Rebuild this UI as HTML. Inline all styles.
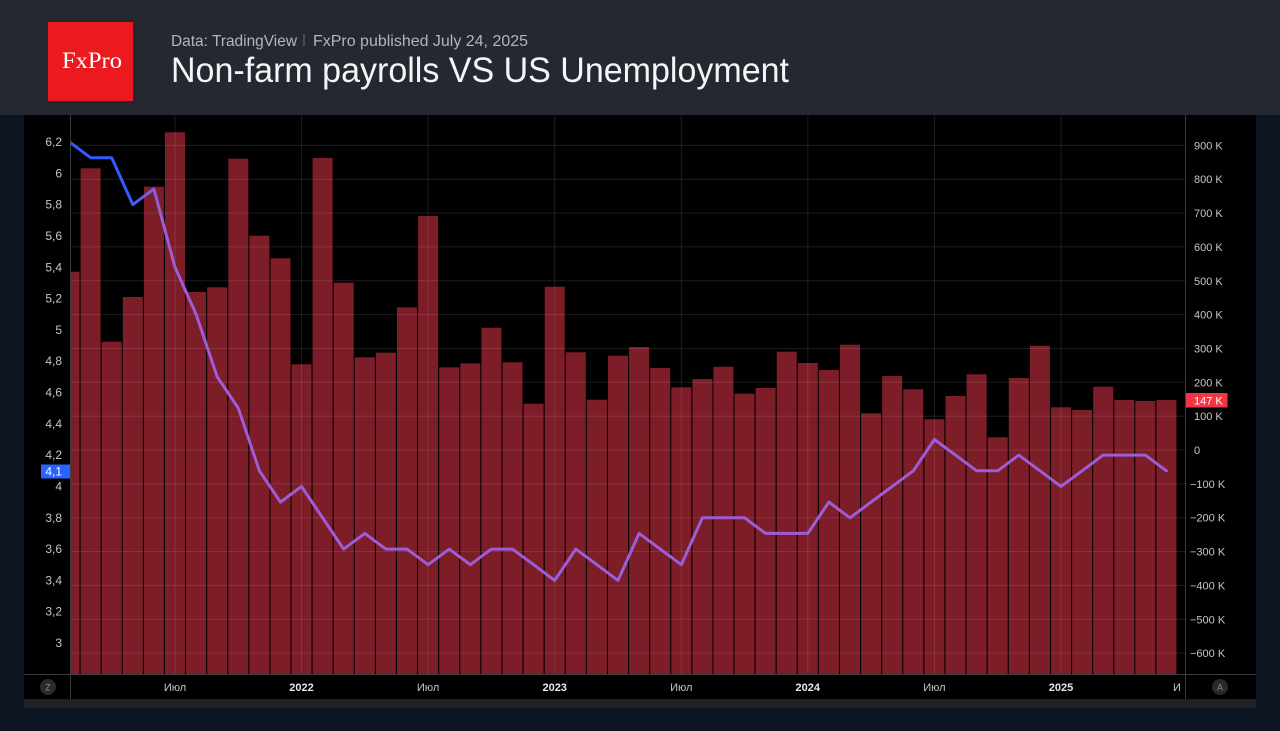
<!DOCTYPE html>
<html><head><meta charset="utf-8"><style>
html,body{margin:0;padding:0;background:#0e1522;}
svg{display:block;}
</style></head><body>
<svg width="1280" height="731" viewBox="0 0 1280 731" xmlns="http://www.w3.org/2000/svg" font-family="'Liberation Sans', sans-serif">
<defs>
<linearGradient id="lg" gradientUnits="userSpaceOnUse" x1="128" y1="0" x2="160" y2="0">
<stop offset="0" stop-color="#2f5cff"/><stop offset="1" stop-color="#9d5cd8"/>
</linearGradient>
<clipPath id="plot"><rect x="70.5" y="115" width="1115" height="559"/></clipPath>
</defs>
<rect x="0" y="0" width="1280" height="731" fill="#0e1522"/>
<!-- header -->
<rect x="0" y="0" width="1280" height="115" fill="#252831"/>
<rect x="48" y="22" width="85" height="79" fill="#ec1a1e"/>
<text x="62" y="68" font-family="'Liberation Serif', serif" font-size="23" fill="#fff" textLength="60" lengthAdjust="spacingAndGlyphs">FxPro</text>
<text x="171" y="46" font-size="16" fill="#b1b5bd" textLength="126" lengthAdjust="spacingAndGlyphs">Data: TradingView</text>
<rect x="303.5" y="34" width="1" height="12" fill="#6c7079"/>
<text x="313" y="46" font-size="16" fill="#b1b5bd" textLength="215" lengthAdjust="spacingAndGlyphs">FxPro published  July 24, 2025</text>
<text x="171" y="82" font-size="35" fill="#f4f5f7" textLength="618" lengthAdjust="spacingAndGlyphs">Non-farm payrolls VS US Unemployment</text>
<!-- chart panel -->
<rect x="24" y="115" width="1232" height="584" fill="#000"/>
<rect x="24" y="699" width="1232" height="9" fill="#202125"/>
<!-- bars -->
<g clip-path="url(#plot)" fill="#7c1d27">
<rect x="59.5" y="271.7" width="20" height="402.3"/>
<rect x="80.6" y="168.3" width="20" height="505.7"/>
<rect x="101.7" y="341.7" width="20" height="332.3"/>
<rect x="122.8" y="297" width="20" height="377"/>
<rect x="143.9" y="186.7" width="20" height="487.3"/>
<rect x="165.0" y="132.3" width="20" height="541.7"/>
<rect x="186.1" y="292" width="20" height="382"/>
<rect x="207.2" y="287.3" width="20" height="386.7"/>
<rect x="228.3" y="158.7" width="20" height="515.3"/>
<rect x="249.4" y="235.7" width="20" height="438.3"/>
<rect x="270.5" y="258.3" width="20" height="415.7"/>
<rect x="291.5" y="364.3" width="20" height="309.7"/>
<rect x="312.6" y="158" width="20" height="516"/>
<rect x="333.7" y="282.7" width="20" height="391.3"/>
<rect x="354.8" y="357.3" width="20" height="316.7"/>
<rect x="375.9" y="352.7" width="20" height="321.3"/>
<rect x="397.0" y="307.3" width="20" height="366.7"/>
<rect x="418.1" y="216" width="20" height="458"/>
<rect x="439.2" y="367.3" width="20" height="306.7"/>
<rect x="460.3" y="363.3" width="20" height="310.7"/>
<rect x="481.4" y="327.7" width="20" height="346.3"/>
<rect x="502.5" y="362.3" width="20" height="311.7"/>
<rect x="523.6" y="403.7" width="20" height="270.3"/>
<rect x="544.7" y="286.7" width="20" height="387.3"/>
<rect x="565.8" y="352.3" width="20" height="321.7"/>
<rect x="586.9" y="399.7" width="20" height="274.3"/>
<rect x="608.0" y="355.7" width="20" height="318.3"/>
<rect x="629.1" y="347" width="20" height="327"/>
<rect x="650.2" y="368" width="20" height="306"/>
<rect x="671.3" y="387.3" width="20" height="286.7"/>
<rect x="692.4" y="379" width="20" height="295"/>
<rect x="713.4" y="366.7" width="20" height="307.3"/>
<rect x="734.5" y="393.7" width="20" height="280.3"/>
<rect x="755.6" y="388" width="20" height="286"/>
<rect x="776.7" y="351.7" width="20" height="322.3"/>
<rect x="797.8" y="363" width="20" height="311"/>
<rect x="818.9" y="370" width="20" height="304"/>
<rect x="840.0" y="344.7" width="20" height="329.3"/>
<rect x="861.1" y="413.3" width="20" height="260.7"/>
<rect x="882.2" y="376" width="20" height="298"/>
<rect x="903.3" y="389.3" width="20" height="284.7"/>
<rect x="924.4" y="419.3" width="20" height="254.7"/>
<rect x="945.5" y="396" width="20" height="278"/>
<rect x="966.6" y="374.3" width="20" height="299.7"/>
<rect x="987.7" y="437.3" width="20" height="236.7"/>
<rect x="1008.8" y="378" width="20" height="296"/>
<rect x="1029.9" y="345.7" width="20" height="328.3"/>
<rect x="1051.0" y="407.3" width="20" height="266.7"/>
<rect x="1072.1" y="410" width="20" height="264"/>
<rect x="1093.2" y="386.7" width="20" height="287.3"/>
<rect x="1114.3" y="400" width="20" height="274"/>
<rect x="1135.3" y="401" width="20" height="273"/>
<rect x="1156.4" y="400" width="20" height="274"/>
</g>
<!-- gridlines -->
<g stroke="rgba(255,255,255,0.11)" stroke-width="1" clip-path="url(#plot)">
<line x1="70" y1="145.4" x2="1186" y2="145.4"/>
<line x1="70" y1="179.2" x2="1186" y2="179.2"/>
<line x1="70" y1="213.1" x2="1186" y2="213.1"/>
<line x1="70" y1="246.9" x2="1186" y2="246.9"/>
<line x1="70" y1="280.8" x2="1186" y2="280.8"/>
<line x1="70" y1="314.6" x2="1186" y2="314.6"/>
<line x1="70" y1="348.5" x2="1186" y2="348.5"/>
<line x1="70" y1="382.3" x2="1186" y2="382.3"/>
<line x1="70" y1="416.2" x2="1186" y2="416.2"/>
<line x1="70" y1="450" x2="1186" y2="450"/>
<line x1="70" y1="483.9" x2="1186" y2="483.9"/>
<line x1="70" y1="517.7" x2="1186" y2="517.7"/>
<line x1="70" y1="551.6" x2="1186" y2="551.6"/>
<line x1="70" y1="585.4" x2="1186" y2="585.4"/>
<line x1="70" y1="619.3" x2="1186" y2="619.3"/>
<line x1="70" y1="653.1" x2="1186" y2="653.1"/>
<line x1="175" y1="115" x2="175" y2="674"/>
<line x1="301.5" y1="115" x2="301.5" y2="674"/>
<line x1="428.1" y1="115" x2="428.1" y2="674"/>
<line x1="554.7" y1="115" x2="554.7" y2="674"/>
<line x1="681.3" y1="115" x2="681.3" y2="674"/>
<line x1="807.8" y1="115" x2="807.8" y2="674"/>
<line x1="934.4" y1="115" x2="934.4" y2="674"/>
<line x1="1061" y1="115" x2="1061" y2="674"/>
</g>
<!-- unemployment line -->
<polyline clip-path="url(#plot)" fill="none" stroke="url(#lg)" stroke-width="3" stroke-linejoin="round" stroke-linecap="round"
points="69.5,142 90.6,157.7 111.7,157.7 132.8,204.6 153.9,189 175,267.3 196.1,314.2 217.2,376.8 238.3,408.2 259.4,470.8 280.5,502.1 301.5,486.4 322.6,517.8 343.7,549.1 364.8,533.4 385.9,549.1 407,549.1 428.1,564.7 449.2,549.1 470.3,564.7 491.4,549.1 512.5,549.1 533.6,564.7 554.7,580.4 575.8,549.1 596.9,564.7 618,580.4 639.1,533.4 660.2,549.1 681.3,564.7 702.4,517.8 723.4,517.8 744.5,517.8 765.6,533.4 786.7,533.4 807.8,533.4 828.9,502.1 850,517.8 871.1,502.1 892.2,486.4 913.3,470.8 934.4,439.5 955.5,455.1 976.6,470.8 997.7,470.8 1018.8,455.1 1039.9,470.8 1061,486.4 1082.1,470.8 1103.2,455.1 1124.3,455.1 1145.3,455.1 1166.4,470.8"/>
<!-- axes lines -->
<g stroke="#3d3d40" stroke-width="1">
<line x1="70.5" y1="115" x2="70.5" y2="699"/>
<line x1="1185.5" y1="115" x2="1185.5" y2="699"/>
<line x1="24" y1="674.5" x2="1256" y2="674.5"/>
</g>
<!-- left axis labels -->
<g font-size="12" fill="#c6c6c8" text-anchor="end">
<text x="62" y="146">6,2</text>
<text x="62" y="177.3">6</text>
<text x="62" y="208.6">5,8</text>
<text x="62" y="239.9">5,6</text>
<text x="62" y="271.3">5,4</text>
<text x="62" y="302.6">5,2</text>
<text x="62" y="333.9">5</text>
<text x="62" y="365.2">4,8</text>
<text x="62" y="396.5">4,6</text>
<text x="62" y="427.8">4,4</text>
<text x="62" y="459.1">4,2</text>
<text x="62" y="490.4">4</text>
<text x="62" y="521.8">3,8</text>
<text x="62" y="553.1">3,6</text>
<text x="62" y="584.4">3,4</text>
<text x="62" y="615.7">3,2</text>
<text x="62" y="647">3</text>
</g>
<rect x="41" y="464.5" width="29" height="14" fill="#2962ff"/>
<text x="62" y="475.5" font-size="12" fill="#fff" text-anchor="end">4,1</text>
<!-- right axis labels -->
<g font-size="11" fill="#c6c6c8">
<text x="1194" y="149.4">900 K</text>
<text x="1194" y="183.2">800 K</text>
<text x="1194" y="217.1">700 K</text>
<text x="1194" y="250.9">600 K</text>
<text x="1194" y="284.8">500 K</text>
<text x="1194" y="318.6">400 K</text>
<text x="1194" y="352.5">300 K</text>
<text x="1194" y="386.3">200 K</text>
<text x="1194" y="420.2">100 K</text>
<text x="1194" y="454">0</text>
<text x="1190" y="487.9">−100 K</text>
<text x="1190" y="521.7">−200 K</text>
<text x="1190" y="555.6">−300 K</text>
<text x="1190" y="589.4">−400 K</text>
<text x="1190" y="623.3">−500 K</text>
<text x="1190" y="657.1">−600 K</text>
</g>
<rect x="1186" y="393" width="41.5" height="14.5" fill="#f23645"/>
<text x="1194" y="404.3" font-size="11" fill="#fff">147 K</text>
<!-- time axis -->
<g font-size="11" fill="#c6c6c8" text-anchor="middle">
<text x="175" y="691">Июл</text>
<text x="301.5" y="691" font-weight="bold" fill="#e6e6e8">2022</text>
<text x="428.1" y="691">Июл</text>
<text x="554.7" y="691" font-weight="bold" fill="#e6e6e8">2023</text>
<text x="681.3" y="691">Июл</text>
<text x="807.8" y="691" font-weight="bold" fill="#e6e6e8">2024</text>
<text x="934.4" y="691">Июл</text>
<text x="1061" y="691" font-weight="bold" fill="#e6e6e8">2025</text>
</g>
<svg x="1170" y="675" width="15" height="24"><text x="3" y="16" font-size="11" fill="#c6c6c8">И</text></svg>
<circle cx="48" cy="687" r="8" fill="#2a2a2d"/>
<text x="48" y="690.5" font-size="9" fill="#8a8a8e" text-anchor="middle">Z</text>
<circle cx="1220" cy="687" r="8" fill="#2a2a2d"/>
<text x="1220" y="690.5" font-size="9" fill="#8a8a8e" text-anchor="middle">A</text>
</svg>
</body></html>
